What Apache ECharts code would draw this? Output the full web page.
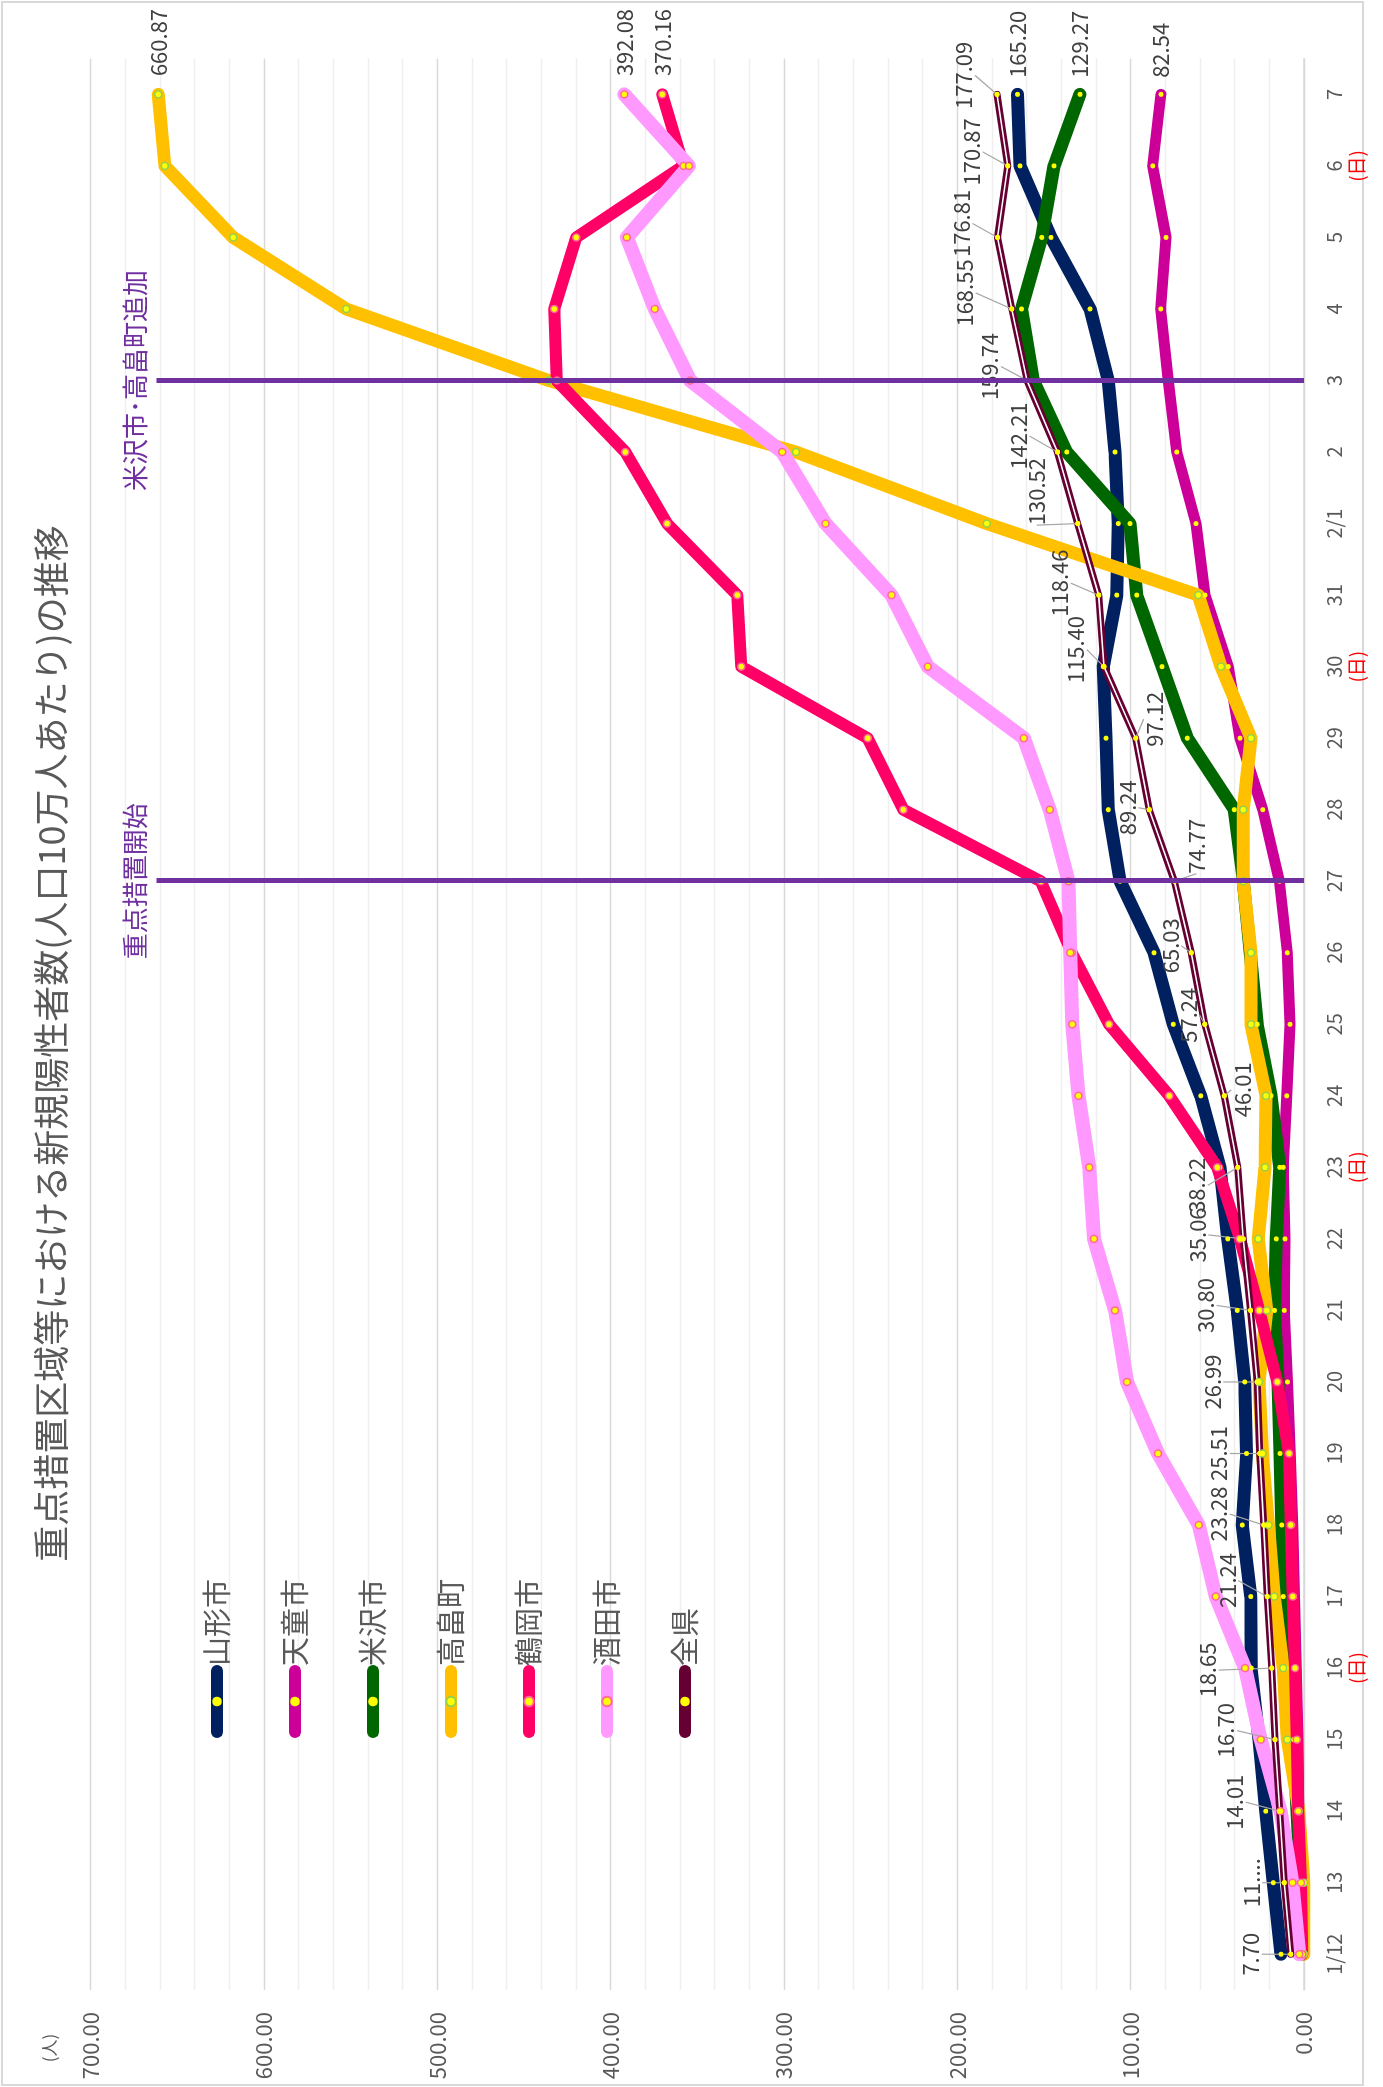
<!DOCTYPE html>
<html>
<head>
<meta charset="utf-8">
<title>重点措置区域等における新規陽性者数の推移</title>
<script src="https://cdn.jsdelivr.net/npm/echarts@6/dist/echarts.min.js"></script>
<style>
  html, body { margin: 0; padding: 0; background: #fff; }
  #page { position: relative; width: 1383px; height: 2087px; overflow: hidden; }
  /* chart is laid out landscape, then turned a quarter turn to the left */
  #chart {
    position: absolute; left: 0; top: 0; width: 2087px; height: 1383px;
    transform-origin: 0 0; transform: translate(0, 2087px) rotate(-90deg);
  }
</style>
</head>
<body>
<div id="page"><div id="chart"></div></div>
<script>
const dates = ['1/12', '13', '14', '15', '16', '17', '18', '19', '20', '21', '22', '23', '24', '25', '26',
  '27', '28', '29', '30', '31', '2/1', '2', '3', '4', '5', '6', '7']
const sundays = ['16', '23', '30', '6']

const yamagata = [13.3, 17.7, 22.1, 26.0, 30.5, 30.7, 35.6, 33.1, 34.2, 38.5, 44.0, 48.5, 59.6, 75.4, 86.5,
  106.1, 112.9, 114.2, 115.8, 108.0, 107.1, 109.0, 112.9, 123.4, 145.9, 163.8, 165.20]
const tendo = [1.0, 2.0, 3.0, 3.5, 4.5, 5.5, 6.5, 8.0, 9.5, 11.4, 11.0, 12.0, 10.0, 8.1, 9.6,
  14.2, 23.8, 36.9, 43.7, 57.1, 62.3, 73.4, 78.3, 82.7, 79.6, 87.3, 82.54]
const yonezawa = [0.5, 2.0, 4.0, 6.0, 10.4, 12.0, 12.9, 13.8, 15.0, 17.0, 16.0, 14.0, 19.0, 27.0, 31.0,
  35.0, 40.2, 67.3, 81.9, 96.5, 100.4, 136.9, 156.1, 162.9, 151.3, 144.2, 129.27]
const takahata = [0, 0, 3.0, 9.6, 12.0, 17.1, 20.5, 24.0, 26.0, 21.5, 26.4, 22.5, 21.9, 30.6, 30.6,
  35.0, 35.0, 30.6, 47.9, 61.0, 183.0, 293.0, 435.7, 552.5, 617.7, 657.1, 660.87]
const tsuruoka = [1.0, 1.7, 3.3, 4.2, 5.2, 6.5, 7.7, 8.7, 15.4, 25.8, 37.0, 50.0, 77.7, 112.5, 134.0,
  151.8, 231.1, 251.7, 324.6, 326.9, 367.4, 391.5, 431.1, 432.5, 419.8, 358.0, 370.16]
const sakata = [2.7, 6.7, 13.5, 25.0, 34.0, 50.9, 60.7, 84.2, 102.1, 109.0, 121.1, 123.9, 130.1, 133.7, 134.9,
  135.8, 146.7, 161.6, 217.0, 238.0, 276.0, 301.0, 354.1, 374.5, 390.6, 354.8, 392.08]
const zenken = [7.70, 11.40, 14.01, 16.70, 18.65, 21.24, 23.28, 25.51, 26.99, 30.80, 35.06, 38.22, 46.01, 57.24, 65.03,
  74.77, 89.24, 97.12, 115.40, 118.46, 130.52, 142.21, 159.74, 168.55, 176.81, 170.87, 177.09]
// the second label is cut short in the source
const zenkenLabelText = { 1: '11....' }

const eventDates = ['27', '3']
const eventNames = ['重点措置開始', '米沢市･高畠町追加']
const eventTop = 662

// where each 全県 label was dragged to, relative to its point
const zenkenLabelShift = [[0, -40], [0, -33], [9, -45], [9, -49], [-2, -64], [16, -40], [11, -45], [0, -41],
  [0, -45], [5, -45], [4, -46], [-18, -41], [6, 18], [9, -16], [7, -21], [35, 22], [2, -22], [19, 19],
  [17, -28], [12, -39], [32, -41], [16, -39], [14, -37], [16, -47], [14, -36], [14, -36], [19, -33]]

const FONT = "'Noto Sans CJK JP', 'Noto Sans', sans-serif"

const cities = [
  { name: '山形市', data: yamagata, color: '#002060', width: 13, dot: '#ffff00' },
  { name: '天童市', data: tendo, color: '#cc0099', width: 11, dot: '#ffff00' },
  { name: '米沢市', data: yonezawa, color: '#006600', width: 13, dot: '#ffff00' },
  { name: '高畠町', data: takahata, color: '#ffc000', width: 13, dot: '#92d050' },
  { name: '鶴岡市', data: tsuruoka, color: '#ff0066', width: 12, dot: '#ff6699' },
  { name: '酒田市', data: sakata, color: '#ff99ff', width: 14, dot: '#ff6699' },
]

function withEndLabel(values) {
  return values.map((v, i) => (i === values.length - 1 ? { value: v, label: { show: true } } : v))
}

const citySeries = cities.map((c) => ({
  name: c.name,
  type: 'line',
  data: withEndLabel(c.data),
  symbol: 'circle',
  symbolSize: c.dot === '#ffff00' ? 5 : 7,
  itemStyle: { color: '#ffff00', borderColor: c.dot, borderWidth: c.dot === '#ffff00' ? 0 : 1.5 },
  lineStyle: { color: c.color, width: c.width, cap: 'round', join: 'round' },
  label: {
    show: false,
    position: 'right',
    distance: 14,
    fontSize: 22,
    color: '#404040',
    formatter: (p) => p.value.toFixed(2),
  },
  emphasis: { disabled: true },
}))

const option = {
  animation: false,
  backgroundColor: '#ffffff',
  textStyle: { fontFamily: FONT },
  title: {
    text: '重点措置区域等における新規陽性者数(人口10万人あたり)の推移',
    left: 'center',
    top: 28,
    textStyle: { fontSize: 36, fontWeight: 'normal', color: '#595959', fontFamily: FONT },
  },
  legend: {
    orient: 'vertical',
    left: 344,
    top: 197,
    itemWidth: 61,
    itemHeight: 12,
    itemGap: 48,
    data: ['山形市', '天童市', '米沢市', '高畠町', '鶴岡市', '酒田市', '全県'],
    lineStyle: { width: 12, cap: 'round' },
    textStyle: { fontSize: 29, lineHeight: 30, color: '#595959', fontFamily: FONT },
  },
  grid: { left: 97, right: 58.6, top: 90.5, bottom: 79, outerBoundsMode: 'none' },
  xAxis: {
    type: 'category',
    data: dates,
    boundaryGap: true,
    axisLine: { lineStyle: { color: '#d9d9d9', width: 1.5 } },
    axisTick: { show: false },
    axisLabel: {
      interval: 0,
      margin: 18,
      formatter: (v) => (sundays.includes(v) ? `{d|${v}}\n{s|(日)}` : `{d|${v}}`),
      rich: {
        d: { fontSize: 20, lineHeight: 24, color: '#595959', fontFamily: FONT },
        s: { fontSize: 19, lineHeight: 22, color: '#ff0000', fontFamily: FONT },
      },
    },
  },
  yAxis: {
    type: 'value',
    min: 0,
    max: 700,
    interval: 100,
    axisLine: { show: false },
    axisTick: { show: false },
    axisLabel: { fontSize: 22, color: '#595959', margin: 22, formatter: (v) => v.toFixed(2) },
    splitLine: { lineStyle: { color: '#d9d9d9', width: 1.3 } },
    minorTick: { show: false, splitNumber: 5 },
    minorSplitLine: { show: true, lineStyle: { color: '#efefef', width: 1.3 } },
  },
  graphic: [
    {
      type: 'rect',
      silent: true,
      shape: { x: 2, y: 2, width: 2083, height: 1361 },
      style: { fill: 'none', stroke: '#d9d9d9', lineWidth: 2 },
    },
    {
      type: 'text',
      silent: true,
      x: 39,
      y: 50,
      style: { text: '(人)', fontSize: 17, fill: '#595959', align: 'center', verticalAlign: 'middle', fontFamily: FONT },
    },
  ],
  series: [
    ...citySeries,
    {
      name: '全県',
      type: 'line',
      data: zenken,
      symbol: 'circle',
      symbolSize: 5,
      itemStyle: { color: '#ffff00' },
      lineStyle: { color: '#660033', width: 7, cap: 'round', join: 'round' },
      label: {
        show: true,
        position: 'inside',
        fontSize: 22,
        color: '#404040',
        formatter: (p) => zenkenLabelText[p.dataIndex] || p.value.toFixed(2),
      },
      labelLine: { show: true, lineStyle: { color: '#a6a6a6', width: 1.2 } },
      labelLayout: (p) => ({ dx: zenkenLabelShift[p.dataIndex][0], dy: zenkenLabelShift[p.dataIndex][1] }),
      emphasis: { disabled: true },
    },
    {
      // thin pale stripe down the middle of the 全県 line
      name: '全県',
      type: 'line',
      data: zenken,
      silent: true,
      symbol: 'circle',
      symbolSize: 5,
      itemStyle: { color: '#ffff00' },
      lineStyle: { color: '#ffffff', width: 1.6, join: 'round' },
      emphasis: { disabled: true },
    },
    {
      name: 'events',
      type: 'line',
      data: [],
      silent: true,
      z: 10,
      markLine: {
        silent: true,
        symbol: ['none', 'none'],
        lineStyle: { color: '#7030a0', width: 5, type: 'solid' },
        label: { show: true, position: 'end', distance: 8, color: '#7030a0', fontSize: 26, formatter: '{b}' },
        emphasis: { disabled: true },
        data: eventDates.map((d, i) => [
          { name: eventNames[i], coord: [d, 0] },
          { coord: [d, eventTop] },
        ]),
      },
    },
  ],
}

const chart = echarts.init(document.getElementById('chart'), null, { width: 2087, height: 1383 })
chart.setOption(option)
</script>
</body>
</html>
